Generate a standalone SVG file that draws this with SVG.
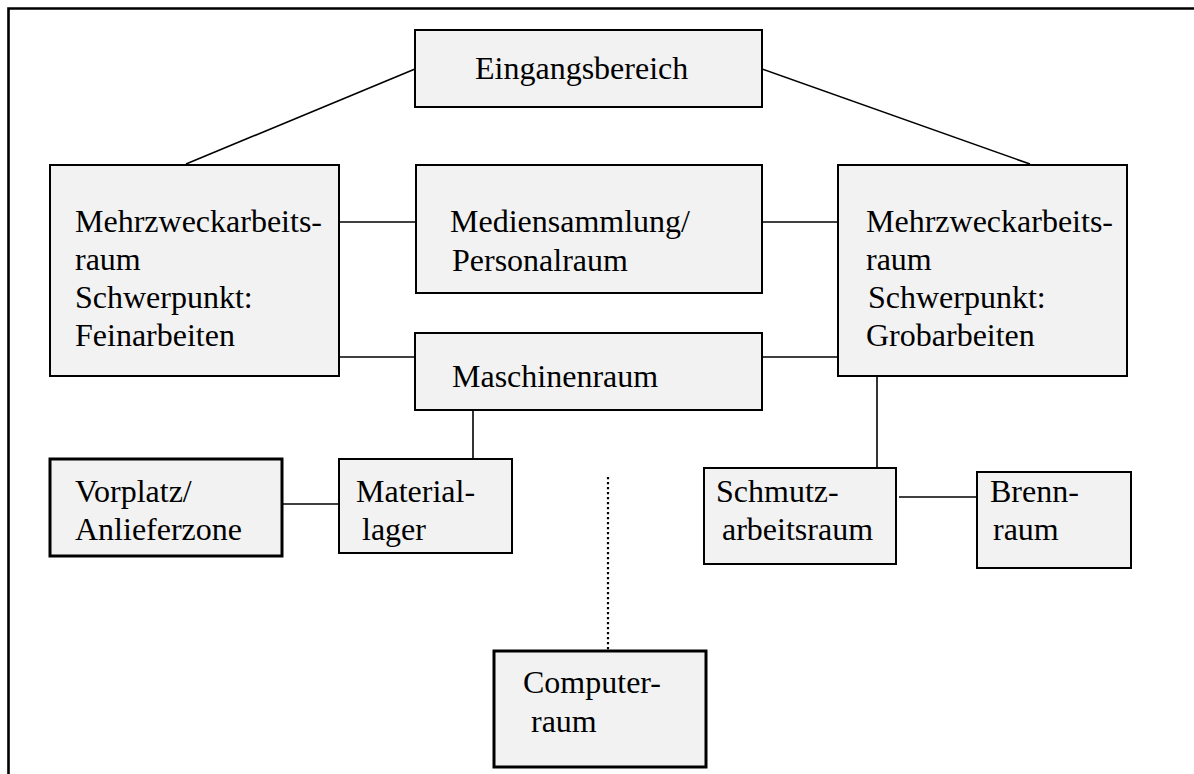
<svg xmlns="http://www.w3.org/2000/svg" width="1194" height="774" viewBox="0 0 1194 774">
<style>
.box{fill:#f2f2f2;stroke:#000;stroke-width:2}
.thick{stroke-width:3}
text{font-family:"Liberation Serif","Nimbus Roman","Times New Roman",Times,"FreeSerif","Noto Serif","DejaVu Serif",serif;font-size:32px;fill:#000}
.c{stroke:#000;stroke-width:1.6;fill:none}
.dot{stroke:#000;stroke-width:2.2;stroke-dasharray:2.2 2.8;fill:none}
</style>
<rect width="1194" height="774" fill="#fff"/>
<path d="M8.5,774 V8.5 H1194" fill="none" stroke="#000" stroke-width="2.6"/>
<g id="connectors">
<line class="c" x1="415" y1="69" x2="186" y2="164"/>
<line class="c" x1="762" y1="69" x2="1030" y2="164"/>
<line class="c" x1="339" y1="222" x2="416" y2="222"/>
<line class="c" x1="762" y1="222" x2="838" y2="222"/>
<line class="c" x1="336" y1="357" x2="415" y2="357"/>
<line class="c" x1="762" y1="357" x2="838" y2="357"/>
<line class="c" x1="473" y1="410" x2="473" y2="459"/>
<line class="c" x1="282" y1="504" x2="339" y2="504"/>
<line class="c" x1="877" y1="376" x2="877" y2="468"/>
<line class="c" x1="899" y1="497" x2="977" y2="497"/>
<line class="dot" x1="608" y1="477" x2="608" y2="651"/>
</g>
<g id="eingangsbereich">
<rect class="box" x="415" y="30" width="347" height="77"/>
<text x="475" y="79">Eingangsbereich</text>
</g>
<g id="mehrzweck-fein">
<rect class="box" x="50" y="165" width="289" height="211"/>
<text x="75" y="232">Mehrzweckarbeits-</text>
<text x="75" y="270">raum</text>
<text x="75" y="308">Schwerpunkt:</text>
<text x="75" y="346">Feinarbeiten</text>
</g>
<g id="mediensammlung">
<rect class="box" x="416" y="165" width="346" height="128"/>
<text x="450" y="232">Mediensammlung/</text>
<text x="452" y="271">Personalraum</text>
</g>
<g id="mehrzweck-grob">
<rect class="box" x="838" y="165" width="289" height="211"/>
<text x="866" y="232">Mehrzweckarbeits-</text>
<text x="866" y="270">raum</text>
<text x="868" y="308">Schwerpunkt:</text>
<text x="866" y="346">Grobarbeiten</text>
</g>
<g id="maschinenraum">
<rect class="box" x="415" y="333" width="347" height="77"/>
<text x="452" y="387">Maschinenraum</text>
</g>
<g id="vorplatz">
<rect class="box thick" x="50" y="459" width="232" height="97"/>
<text x="75" y="502">Vorplatz/</text>
<text x="75" y="540">Anlieferzone</text>
</g>
<g id="materiallager">
<rect class="box" x="339" y="459" width="173" height="94"/>
<text x="356" y="502">Material-</text>
<text x="362" y="540">lager</text>
</g>
<g id="schmutzarbeitsraum">
<rect class="box" x="704" y="468" width="192" height="96"/>
<text x="716" y="502">Schmutz-</text>
<text x="722" y="540">arbeitsraum</text>
</g>
<g id="brennraum">
<rect class="box" x="977" y="472" width="154" height="96"/>
<text x="990" y="502">Brenn-</text>
<text x="993" y="540">raum</text>
</g>
<g id="computerraum">
<rect class="box thick" x="494" y="651" width="212" height="116"/>
<text x="523" y="693">Computer-</text>
<text x="531" y="732">raum</text>
</g>
</svg>
